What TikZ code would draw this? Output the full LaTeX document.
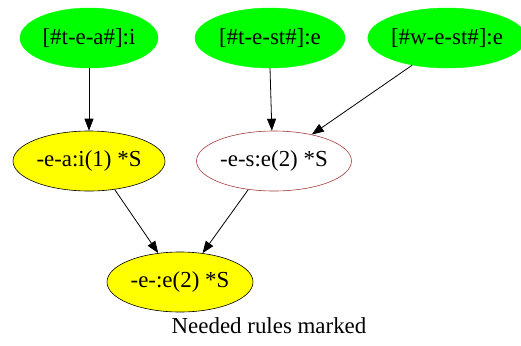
\documentclass[tikz,border=0pt]{standalone}
\usepackage{fontspec}
\setmainfont{Liberation Serif}
\usetikzlibrary{shapes.geometric, arrows.meta}
\definecolor{rulegreen}{RGB}{0,255,0}
\definecolor{ruleyellow}{RGB}{255,255,0}
\definecolor{rulebrown}{RGB}{165,60,60}

\begin{document}
\begin{tikzpicture}[x=1bp, y=-1bp,
  rule/.style={ellipse, inner sep=0pt, minimum height=60bp,
    font=\fontsize{23}{27}\selectfont},
  word/.style={rule, fill=rulegreen, draw=rulegreen},
  needed/.style={rule, fill=ruleyellow, draw=black, line width=0.6bp},
  unused/.style={rule, fill=white, draw=rulebrown, line width=0.6bp},
  edge/.style={-{Triangle[length=12bp, width=9bp]}, line width=0.8bp}]
\useasboundingbox (0,0) rectangle (521,345);
\node[word, minimum width=138bp] (ta) at (89,38) {[\#t-e-a\#]:i};
\node[word, minimum width=150bp] (tst) at (270,38) {[\#t-e-st\#]:e};
\node[word, minimum width=148bp] (wst) at (447,38) {[\#w-e-st\#]:e};
\node[needed, minimum width=152bp] (ea) at (89,161) {-e-a:i(1) *S};
\node[unused, minimum width=155bp] (es) at (274,161) {-e-s:e(2) *S};
\node[needed, minimum width=146bp] (e) at (180,282) {-e-:e(2) *S};
\draw[edge] (ta) -- (ea);
\draw[edge] (tst.south) -- (es.94);
\draw[edge] (wst.218) -- (es.35);
\draw[edge] (ea.-48) -- (e.127);
\draw[edge] (es.228) -- (e.52);
\node[font=\fontsize{23}{27}\selectfont] (caption) at (269,326) {Needed rules marked};
\end{tikzpicture}
\end{document}
